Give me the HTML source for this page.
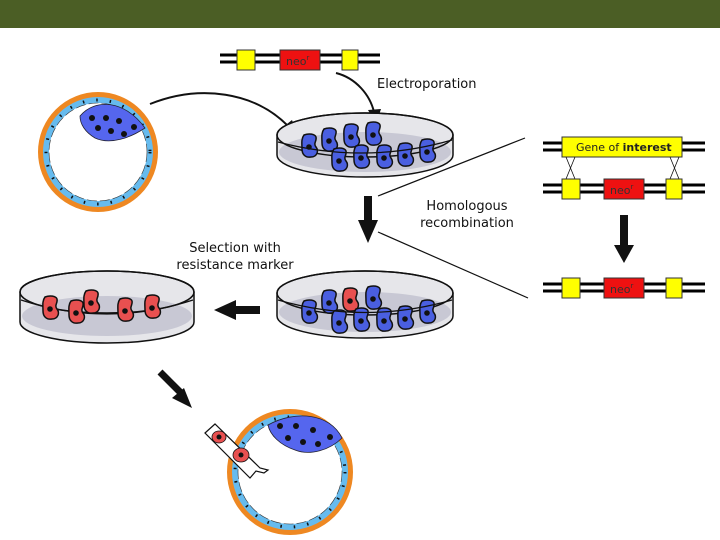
<!DOCTYPE html>
<html><head><meta charset="utf-8"><style>
html,body{margin:0;padding:0;background:#fff;}
svg{display:block;font-family:"DejaVu Sans","Liberation Sans",sans-serif;}
</style></head><body>
<svg width="720" height="540" viewBox="0 0 720 540" xmlns="http://www.w3.org/2000/svg">
<defs>
<path id="cell" d="M-6,-11 C-1,-13 5,-12 6,-9 C7,-5 3,-3 6,1 C9,5 7,11 1,11 C-5,12 -8,8 -8,3 C-8,-2 -9,-7 -6,-11 Z"/>
<g id="bc"><use href="#cell" fill="#4a5fe0" stroke="#111" stroke-width="1.5"/><circle cx="-1" cy="1" r="2.8" fill="#111"/></g>
<g id="rc"><use href="#cell" fill="#e85050" stroke="#111" stroke-width="1.5"/><circle cx="-1" cy="1" r="2.8" fill="#111"/></g>
</defs>
<rect x="0" y="0" width="720" height="28" fill="#4b5e25"/>

<!-- top construct -->
<g>
<line x1="220" y1="55" x2="380" y2="55" stroke="#000" stroke-width="3"/>
<line x1="220" y1="62" x2="380" y2="62" stroke="#000" stroke-width="3"/>
<rect x="237" y="50" width="18" height="20" fill="#ffff00" stroke="#333"/>
<rect x="280" y="50" width="40" height="20" fill="#ee1111" stroke="#333"/>
<text x="286" y="65" font-size="11" fill="#333">neo<tspan font-size="7" dy="-5">r</tspan></text>
<rect x="342" y="50" width="16" height="20" fill="#ffff00" stroke="#333"/>
</g>
<text x="377" y="88" font-size="13" fill="#111">Electroporation</text>
<path d="M336,73 C356,78 370,95 374,112" fill="none" stroke="#111" stroke-width="2"/>
<path d="M368,110 L381,109 L376,124 Z" fill="#111"/>
<path d="M150,104 C200,84 255,92 288,126" fill="none" stroke="#111" stroke-width="2"/>
<path d="M282,128 L292,120 L298,137 Z" fill="#111"/>

<!-- blastocyst 1 -->
<g>
<circle cx="98" cy="152" r="57" fill="#fff" stroke="#ee8822" stroke-width="6"/>
<circle cx="98" cy="152" r="52" fill="none" stroke="#66bbee" stroke-width="6"/>
<circle cx="98" cy="152" r="49" fill="none" stroke="#333" stroke-width="0.6" stroke-dasharray="10 3"/>
<circle cx="98" cy="152" r="52" fill="none" stroke="#111" stroke-width="3" stroke-dasharray="1.5 12"/>
<path d="M80,116 C95,98 125,100 145,128 C130,138 110,145 95,138 C85,132 80,124 80,116 Z" fill="#5566ee" stroke="#223" stroke-width="0.8"/>
<circle cx="92" cy="118" r="3" fill="#111"/><circle cx="106" cy="118" r="3" fill="#111"/><circle cx="119" cy="121" r="3" fill="#111"/>
<circle cx="98" cy="128" r="3" fill="#111"/><circle cx="111" cy="131" r="3" fill="#111"/><circle cx="124" cy="134" r="3" fill="#111"/><circle cx="134" cy="127" r="3" fill="#111"/>
</g>

<!-- dish 1 -->
<g>
<path d="M277,135 A88,22 0 0 1 453,135 L453,155 A88,22 0 0 1 277,155 Z" fill="#e6e6ea" stroke="#111" stroke-width="1.5"/>
<ellipse cx="365" cy="152" rx="86" ry="20" fill="#c8c8d4"/>
<ellipse cx="365" cy="135" rx="88" ry="22" fill="none" stroke="#111" stroke-width="1.5"/>
<use href="#bc" x="310" y="146"/><use href="#bc" x="330" y="140"/><use href="#bc" x="352" y="136"/><use href="#bc" x="374" y="134"/>
<use href="#bc" x="340" y="160"/><use href="#bc" x="362" y="157"/><use href="#bc" x="385" y="157"/><use href="#bc" x="406" y="155"/><use href="#bc" x="428" y="151"/>
<path d="M278,142 Q365,165 452,140" fill="none" stroke="#111" stroke-width="1.2"/>
</g>

<!-- down arrow -->
<rect x="364" y="196" width="8" height="24" fill="#111"/>
<path d="M358,220 L378,220 L368,243 Z" fill="#111"/>
<line x1="378" y1="196" x2="525" y2="138" stroke="#111" stroke-width="1.2"/>
<line x1="378" y1="232" x2="528" y2="298" stroke="#111" stroke-width="1.2"/>
<text x="467" y="210" font-size="13" fill="#111" text-anchor="middle">Homologous</text>
<text x="467" y="227" font-size="13" fill="#111" text-anchor="middle">recombination</text>

<!-- right panel -->
<g>
<line x1="543" y1="143" x2="705" y2="143" stroke="#000" stroke-width="3"/>
<line x1="543" y1="150" x2="705" y2="150" stroke="#000" stroke-width="3"/>
<rect x="562" y="137" width="120" height="20" fill="#ffff00" stroke="#333"/>
<text x="576" y="151" font-size="11" fill="#222">Gene of <tspan font-weight="bold">interest</tspan></text>
<path d="M566,157 L575,179 M575,157 L566,179 M670,157 L679,179 M679,157 L670,179" stroke="#111" stroke-width="0.8"/>
<line x1="543" y1="185" x2="705" y2="185" stroke="#000" stroke-width="3"/>
<line x1="543" y1="192" x2="705" y2="192" stroke="#000" stroke-width="3"/>
<rect x="562" y="179" width="18" height="20" fill="#ffff00" stroke="#333"/>
<rect x="604" y="179" width="40" height="20" fill="#ee1111" stroke="#333"/>
<text x="610" y="194" font-size="11" fill="#333">neo<tspan font-size="7" dy="-5">r</tspan></text>
<rect x="666" y="179" width="16" height="20" fill="#ffff00" stroke="#333"/>
<rect x="620" y="215" width="8" height="30" fill="#111"/>
<path d="M614,245 L634,245 L624,263 Z" fill="#111"/>
<line x1="543" y1="284" x2="705" y2="284" stroke="#000" stroke-width="3"/>
<line x1="543" y1="291" x2="705" y2="291" stroke="#000" stroke-width="3"/>
<rect x="562" y="278" width="18" height="20" fill="#ffff00" stroke="#333"/>
<rect x="604" y="278" width="40" height="20" fill="#ee1111" stroke="#333"/>
<text x="610" y="293" font-size="11" fill="#333">neo<tspan font-size="7" dy="-5">r</tspan></text>
<rect x="666" y="278" width="16" height="20" fill="#ffff00" stroke="#333"/>
</g>

<!-- dish 2 -->
<g>
<path d="M277,293 A88,22 0 0 1 453,293 L453,316 A88,22 0 0 1 277,316 Z" fill="#e6e6ea" stroke="#111" stroke-width="1.5"/>
<ellipse cx="365" cy="312" rx="86" ry="20" fill="#c8c8d4"/>
<ellipse cx="365" cy="293" rx="88" ry="22" fill="none" stroke="#111" stroke-width="1.5"/>
<use href="#bc" x="310" y="312"/><use href="#bc" x="330" y="302"/><use href="#rc" x="351" y="300"/><use href="#bc" x="374" y="298"/>
<use href="#bc" x="340" y="322"/><use href="#bc" x="362" y="320"/><use href="#bc" x="385" y="320"/><use href="#bc" x="406" y="318"/><use href="#bc" x="428" y="312"/>
<path d="M278,300 Q365,325 452,300" fill="none" stroke="#111" stroke-width="1.2"/>
</g>

<text x="235" y="252" font-size="13" fill="#111" text-anchor="middle">Selection with</text>
<text x="235" y="269" font-size="13" fill="#111" text-anchor="middle">resistance marker</text>

<!-- left arrow -->
<rect x="236" y="306" width="24" height="8" fill="#111"/>
<path d="M236,300 L236,320 L214,310 Z" fill="#111"/>

<!-- dish 3 -->
<g>
<path d="M20,292 A87,21 0 0 1 194,292 L194,322 A87,21 0 0 1 20,322 Z" fill="#e6e6ea" stroke="#111" stroke-width="1.5"/>
<ellipse cx="107" cy="316" rx="85" ry="20" fill="#c8c8d4"/>
<ellipse cx="107" cy="292" rx="87" ry="21" fill="none" stroke="#111" stroke-width="1.5"/>
<path d="M21,300 Q107,328 193,300" fill="none" stroke="#111" stroke-width="1.2"/>
<use href="#rc" x="51" y="308"/><use href="#rc" x="77" y="312"/><use href="#rc" x="92" y="302"/><use href="#rc" x="126" y="310"/><use href="#rc" x="153" y="307"/>
</g>

<!-- diagonal arrow -->
<path d="M160,372 L180,392" stroke="#111" stroke-width="7"/>
<path d="M172,398 L192,408 L184,388 Z" fill="#111"/>

<!-- blastocyst 2 -->
<g>
<circle cx="290" cy="472" r="60" fill="#fff" stroke="#ee8822" stroke-width="6"/>
<circle cx="290" cy="472" r="55" fill="none" stroke="#66bbee" stroke-width="6"/>
<circle cx="290" cy="472" r="52" fill="none" stroke="#333" stroke-width="0.6" stroke-dasharray="10 3"/>
<circle cx="290" cy="472" r="55" fill="none" stroke="#111" stroke-width="3" stroke-dasharray="1.5 12"/>
<path d="M268,425 C295,410 330,413 342,438 C330,450 310,456 295,450 C280,445 270,435 268,425 Z" fill="#5566ee" stroke="#223" stroke-width="0.8"/>
<circle cx="280" cy="426" r="3" fill="#111"/><circle cx="296" cy="426" r="3" fill="#111"/><circle cx="313" cy="430" r="3" fill="#111"/>
<circle cx="288" cy="438" r="3" fill="#111"/><circle cx="303" cy="442" r="3" fill="#111"/><circle cx="318" cy="444" r="3" fill="#111"/><circle cx="330" cy="437" r="3" fill="#111"/>
</g>
<!-- pipette -->
<path d="M205,433 L215,424 L260,468 L268,470 L264,473 L256,471 L250,478 Z" fill="#fff" stroke="#111" stroke-width="1.2"/>
<ellipse cx="219" cy="437" rx="7" ry="6" fill="#e85050" stroke="#111" stroke-width="0.8"/>
<circle cx="219" cy="437" r="2.5" fill="#111"/>
<ellipse cx="241" cy="455" rx="8" ry="7" fill="#e85050" stroke="#111" stroke-width="0.8"/>
<circle cx="241" cy="455" r="2.5" fill="#111"/>
</svg>
</body></html>
